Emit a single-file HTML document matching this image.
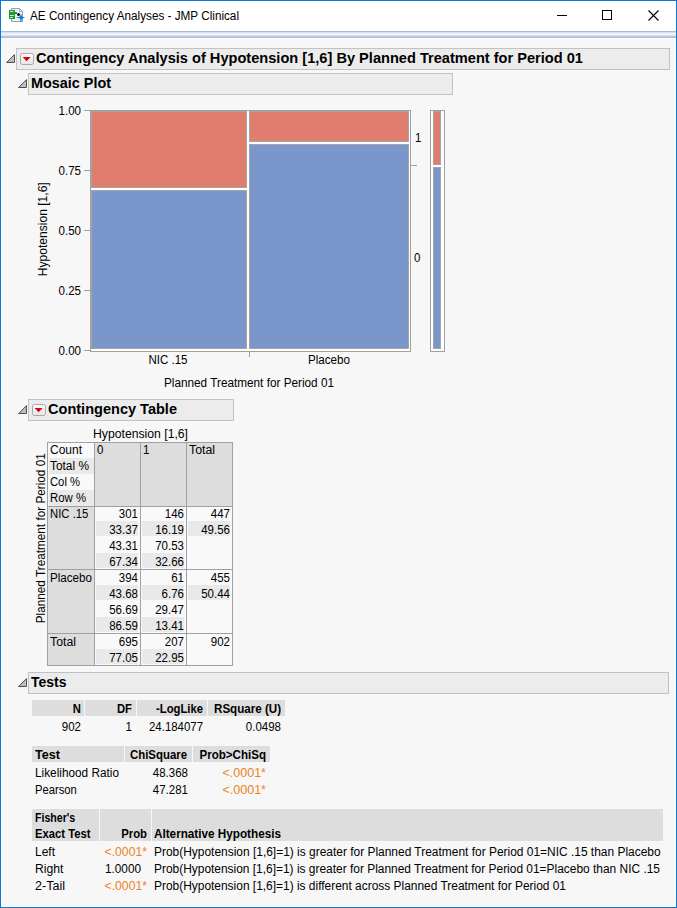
<!DOCTYPE html><html><head><meta charset="utf-8"><title>AE Contingency Analyses - JMP Clinical</title><style>
html,body{margin:0;padding:0;width:677px;height:908px;overflow:hidden;background:#f7f7f7}
.t{position:absolute;white-space:nowrap;font-family:"Liberation Sans",sans-serif;}
.r{position:absolute}
svg{position:absolute;overflow:visible}
</style></head><body>
<div class="r" style="left:0px;top:0px;width:677px;height:908px;background:#f7f7f7;"></div>
<div class="r" style="left:1px;top:1px;width:675px;height:30px;background:#ffffff;"></div>
<div class="r" style="left:1px;top:31px;width:675px;height:7px;background:linear-gradient(#a6bed8 0,#a6bed8 1px,#c9d7e6 1px,#e7edf3 2px,#f5f7fa 3px,#e7edf3 4px,#c9d7e6 5px,#a6bed8 6px,#a6bed8 7px)"></div>
<div class="r" style="left:1px;top:38px;width:675px;height:1px;background:#fdfdfb;"></div>
<div class="r" style="left:1px;top:38px;width:1px;height:869px;background:#fdfdfb;"></div>
<div class="r" style="left:675px;top:38px;width:1px;height:869px;background:#fdfdfb;"></div>
<div class="r" style="left:1px;top:906px;width:675px;height:1px;background:#fdfdfb;"></div>
<div class="r" style="left:0px;top:0px;width:677px;height:1px;background:#0a78d4;"></div>
<div class="r" style="left:0px;top:0px;width:1px;height:908px;background:#0a78d4;"></div>
<div class="r" style="left:676px;top:0px;width:1px;height:908px;background:#0a78d4;"></div>
<div class="r" style="left:0px;top:907px;width:677px;height:1px;background:#0a78d4;"></div>
<svg style="left:9px;top:8px" width="17" height="16" viewBox="0 0 17 16">
<path d="M2.5 0.5 H10.5 L13.5 3.5 V13.5 H2.5 Z" fill="#eef2f7" stroke="#86a6c8" stroke-width="1"/>
<path d="M10.5 0.5 V3.5 H13.5" fill="none" stroke="#86a6c8" stroke-width="0.8"/>
<path d="M0 2 H6 V4 H8 V6 H6 V11 H0 Z" fill="#1e9a2a"/>
<rect x="1" y="3" width="3.5" height="1" fill="#c8f0c8"/><rect x="1" y="7" width="4" height="1" fill="#c8f0c8"/><rect x="1" y="9" width="3" height="1" fill="#c8f0c8"/>
<circle cx="9.5" cy="6.5" r="1.5" fill="#111"/>
<path d="M12 5.8 L13.1 8.4 L16.2 9.5 L13.1 10.6 L12 14.8 L10.9 10.6 L7 9.5 L10.9 8.4 Z" fill="#177ec9"/>
</svg>
<div class="t" style="left:30px;top:10px;font-size:12.5px;line-height:12.5px;font-weight:normal;color:#000;;transform:scaleX(0.9381);transform-origin:0 0">AE Contingency Analyses - JMP Clinical</div>
<div class="r" style="left:557px;top:15px;width:10px;height:1px;background:#000;"></div>
<div class="r" style="left:602px;top:10px;width:10px;height:10px;box-sizing:border-box;border:1px solid #000;background:transparent"></div>
<svg style="left:648px;top:10px" width="11" height="11" viewBox="0 0 11 11"><path d="M0.5 0.5 L10.5 10.5 M10.5 0.5 L0.5 10.5" stroke="#000" stroke-width="1.1"/></svg>
<div class="r" style="left:16px;top:48px;width:654px;height:22px;box-sizing:border-box;border:1px solid #c2c2c2;background:#ececec"></div>
<svg style="left:6px;top:54px" width="10" height="10" viewBox="0 0 10 10"><path d="M0.6 8.5 L8.5 0.6 L8.5 8.5 Z" fill="#bdbdbd" stroke="#505050" stroke-width="1" stroke-linejoin="round"/></svg>
<svg style="left:20px;top:53px" width="14" height="12" viewBox="0 0 14 12"><defs><linearGradient id="bg20_53" x1="0" y1="0" x2="0" y2="1"><stop offset="0" stop-color="#fafafa"/><stop offset="1" stop-color="#e6e6e6"/></linearGradient><linearGradient id="rd20_53" x1="0" y1="0" x2="0" y2="1"><stop offset="0" stop-color="#f00000"/><stop offset="1" stop-color="#b00000"/></linearGradient></defs><rect x="0.5" y="0.5" width="13" height="11" rx="2" ry="2" fill="url(#bg20_53)" stroke="#a8a8a8" stroke-width="1"/><path d="M2.6 4 L10.6 4 L6.6 8.2 Z" fill="url(#rd20_53)"/></svg>
<div class="t" style="left:36px;top:50px;font-size:15.5px;line-height:15.5px;font-weight:bold;color:#000;;transform:scaleX(0.9418);transform-origin:0 0">Contingency Analysis of Hypotension [1,6] By Planned Treatment for Period 01</div>
<div class="r" style="left:28px;top:73px;width:425px;height:22px;box-sizing:border-box;border:1px solid #c2c2c2;background:#ececec"></div>
<svg style="left:18px;top:79px" width="10" height="10" viewBox="0 0 10 10"><path d="M0.6 8.5 L8.5 0.6 L8.5 8.5 Z" fill="#bdbdbd" stroke="#505050" stroke-width="1" stroke-linejoin="round"/></svg>
<div class="t" style="left:31.3px;top:75px;font-size:15.5px;line-height:15.5px;font-weight:bold;color:#000;;transform:scaleX(0.9287);transform-origin:0 0">Mosaic Plot</div>
<div class="r" style="left:90px;top:110px;width:321px;height:242px;box-sizing:border-box;border:1px solid #a0a0a0;background:#ffffff"></div>
<div class="r" style="left:91px;top:111px;width:156px;height:77px;box-sizing:border-box;border:1px solid #a4a4a4;background:#df7e6e"></div>
<div class="r" style="left:91px;top:190px;width:156px;height:159px;box-sizing:border-box;border:1px solid #a4a4a4;background:#7b96cb"></div>
<div class="r" style="left:249px;top:111px;width:160px;height:31px;box-sizing:border-box;border:1px solid #a4a4a4;background:#df7e6e"></div>
<div class="r" style="left:249px;top:144px;width:160px;height:205px;box-sizing:border-box;border:1px solid #a4a4a4;background:#7b96cb"></div>
<div class="r" style="left:84px;top:110px;width:6px;height:1px;background:#a0a0a0;"></div>
<div class="t" style="left:-519px;width:600px;text-align:right;top:105px;font-size:12.5px;line-height:12.5px;font-weight:normal;color:#000;;transform:scaleX(0.9243);transform-origin:600px 0">1.00</div>
<div class="r" style="left:84px;top:170px;width:6px;height:1px;background:#a0a0a0;"></div>
<div class="t" style="left:-519px;width:600px;text-align:right;top:165px;font-size:12.5px;line-height:12.5px;font-weight:normal;color:#000;;transform:scaleX(0.9243);transform-origin:600px 0">0.75</div>
<div class="r" style="left:84px;top:230px;width:6px;height:1px;background:#a0a0a0;"></div>
<div class="t" style="left:-519px;width:600px;text-align:right;top:225px;font-size:12.5px;line-height:12.5px;font-weight:normal;color:#000;;transform:scaleX(0.9243);transform-origin:600px 0">0.50</div>
<div class="r" style="left:84px;top:290px;width:6px;height:1px;background:#a0a0a0;"></div>
<div class="t" style="left:-519px;width:600px;text-align:right;top:285px;font-size:12.5px;line-height:12.5px;font-weight:normal;color:#000;;transform:scaleX(0.9243);transform-origin:600px 0">0.25</div>
<div class="r" style="left:84px;top:350px;width:6px;height:1px;background:#a0a0a0;"></div>
<div class="t" style="left:-519px;width:600px;text-align:right;top:345px;font-size:12.5px;line-height:12.5px;font-weight:normal;color:#000;;transform:scaleX(0.9243);transform-origin:600px 0">0.00</div>
<div class="t" style="left:-257px;top:222.75px;width:600px;text-align:center;font-size:12.5px;line-height:12.5px;color:#000;transform:rotate(-90deg) scaleX(0.9661);transform-origin:300px 6.25px">Hypotension [1,6]</div>
<div class="r" style="left:249px;top:351px;width:1px;height:6px;background:#a0a0a0;"></div>
<div class="t" style="left:-132px;width:600px;text-align:center;top:354px;font-size:12.5px;line-height:12.5px;font-weight:normal;color:#000;;transform:scaleX(0.9200);transform-origin:300px 0">NIC .15</div>
<div class="t" style="left:29px;width:600px;text-align:center;top:354px;font-size:12.5px;line-height:12.5px;font-weight:normal;color:#000;;transform:scaleX(0.9295);transform-origin:300px 0">Placebo</div>
<div class="t" style="left:-51px;width:600px;text-align:center;top:377px;font-size:12.5px;line-height:12.5px;font-weight:normal;color:#000;;transform:scaleX(0.9409);transform-origin:300px 0">Planned Treatment for Period 01</div>
<div class="r" style="left:410px;top:165px;width:7px;height:1px;background:#a0a0a0;"></div>
<div class="t" style="left:415px;top:132px;font-size:12.5px;line-height:12.5px;font-weight:normal;color:#000;;transform:scaleX(0.9200);transform-origin:0 0">1</div>
<div class="t" style="left:414px;top:252px;font-size:12.5px;line-height:12.5px;font-weight:normal;color:#000;;transform:scaleX(0.9200);transform-origin:0 0">0</div>
<div class="r" style="left:430px;top:110px;width:15px;height:242px;box-sizing:border-box;border:1px solid #a0a0a0;background:#ffffff"></div>
<div class="r" style="left:433px;top:111px;width:8px;height:54px;box-sizing:border-box;border:1px solid #a4a4a4;background:#df7e6e"></div>
<div class="r" style="left:433px;top:167px;width:8px;height:182px;box-sizing:border-box;border:1px solid #a4a4a4;background:#7b96cb"></div>
<div class="r" style="left:28px;top:399px;width:206px;height:22px;box-sizing:border-box;border:1px solid #c2c2c2;background:#ececec"></div>
<svg style="left:18px;top:405px" width="10" height="10" viewBox="0 0 10 10"><path d="M0.6 8.5 L8.5 0.6 L8.5 8.5 Z" fill="#bdbdbd" stroke="#505050" stroke-width="1" stroke-linejoin="round"/></svg>
<svg style="left:32px;top:404px" width="14" height="12" viewBox="0 0 14 12"><defs><linearGradient id="bg32_404" x1="0" y1="0" x2="0" y2="1"><stop offset="0" stop-color="#fafafa"/><stop offset="1" stop-color="#e6e6e6"/></linearGradient><linearGradient id="rd32_404" x1="0" y1="0" x2="0" y2="1"><stop offset="0" stop-color="#f00000"/><stop offset="1" stop-color="#b00000"/></linearGradient></defs><rect x="0.5" y="0.5" width="13" height="11" rx="2" ry="2" fill="url(#bg32_404)" stroke="#a8a8a8" stroke-width="1"/><path d="M2.6 4 L10.6 4 L6.6 8.2 Z" fill="url(#rd32_404)"/></svg>
<div class="t" style="left:48px;top:401px;font-size:15.5px;line-height:15.5px;font-weight:bold;color:#000;;transform:scaleX(0.9381);transform-origin:0 0">Contingency Table</div>
<div class="t" style="left:93px;top:428px;font-size:12.5px;line-height:12.5px;font-weight:normal;color:#000;;transform:scaleX(0.9764);transform-origin:0 0">Hypotension [1,6]</div>
<div class="t" style="left:-259px;top:531.75px;width:600px;text-align:center;font-size:12.5px;line-height:12.5px;color:#000;transform:rotate(-90deg) scaleX(0.9409);transform-origin:300px 6.25px">Planned Treatment for Period 01</div>
<div class="r" style="left:47px;top:442px;width:186px;height:224px;background:#f9f9f9;"></div>
<div class="r" style="left:95px;top:443px;width:45px;height:63px;background:#dddddd;"></div>
<div class="r" style="left:141px;top:443px;width:45px;height:63px;background:#dddddd;"></div>
<div class="r" style="left:187px;top:443px;width:45px;height:63px;background:#dddddd;"></div>
<div class="r" style="left:48px;top:507px;width:46px;height:62px;background:#dddddd;"></div>
<div class="r" style="left:48px;top:570px;width:46px;height:63px;background:#dddddd;"></div>
<div class="r" style="left:48px;top:634px;width:46px;height:31px;background:#dddddd;"></div>
<div class="r" style="left:49px;top:458px;width:45px;height:16px;background:#e9e9e9;"></div>
<div class="r" style="left:49px;top:490px;width:45px;height:16px;background:#e9e9e9;"></div>
<div class="r" style="left:96px;top:521px;width:42px;height:15px;background:#e9e9e9;"></div>
<div class="r" style="left:142px;top:521px;width:42px;height:15px;background:#e9e9e9;"></div>
<div class="r" style="left:188px;top:521px;width:42px;height:15px;background:#e9e9e9;"></div>
<div class="r" style="left:96px;top:553px;width:42px;height:15px;background:#e9e9e9;"></div>
<div class="r" style="left:142px;top:553px;width:42px;height:15px;background:#e9e9e9;"></div>
<div class="r" style="left:96px;top:585px;width:42px;height:15px;background:#e9e9e9;"></div>
<div class="r" style="left:142px;top:585px;width:42px;height:15px;background:#e9e9e9;"></div>
<div class="r" style="left:188px;top:585px;width:42px;height:15px;background:#e9e9e9;"></div>
<div class="r" style="left:96px;top:617px;width:42px;height:15px;background:#e9e9e9;"></div>
<div class="r" style="left:142px;top:617px;width:42px;height:15px;background:#e9e9e9;"></div>
<div class="r" style="left:96px;top:649px;width:42px;height:15px;background:#e9e9e9;"></div>
<div class="r" style="left:142px;top:649px;width:42px;height:15px;background:#e9e9e9;"></div>
<div class="r" style="left:47px;top:442px;width:1px;height:224px;background:#a0a0a0;"></div>
<div class="r" style="left:94px;top:442px;width:1px;height:224px;background:#a0a0a0;"></div>
<div class="r" style="left:140px;top:442px;width:1px;height:224px;background:#a0a0a0;"></div>
<div class="r" style="left:186px;top:442px;width:1px;height:224px;background:#a0a0a0;"></div>
<div class="r" style="left:232px;top:442px;width:1px;height:224px;background:#a0a0a0;"></div>
<div class="r" style="left:47px;top:442px;width:186px;height:1px;background:#a0a0a0;"></div>
<div class="r" style="left:47px;top:506px;width:186px;height:1px;background:#a0a0a0;"></div>
<div class="r" style="left:47px;top:569px;width:186px;height:1px;background:#a0a0a0;"></div>
<div class="r" style="left:47px;top:633px;width:186px;height:1px;background:#a0a0a0;"></div>
<div class="r" style="left:47px;top:665px;width:186px;height:1px;background:#a0a0a0;"></div>
<div class="t" style="left:50px;top:444px;font-size:12.5px;line-height:12.5px;font-weight:normal;color:#000;;transform:scaleX(0.9593);transform-origin:0 0">Count</div>
<div class="t" style="left:50px;top:460px;font-size:12.5px;line-height:12.5px;font-weight:normal;color:#000;;transform:scaleX(0.9512);transform-origin:0 0">Total %</div>
<div class="t" style="left:50px;top:476px;font-size:12.5px;line-height:12.5px;font-weight:normal;color:#000;;transform:scaleX(0.8997);transform-origin:0 0">Col %</div>
<div class="t" style="left:50px;top:492px;font-size:12.5px;line-height:12.5px;font-weight:normal;color:#000;;transform:scaleX(0.9092);transform-origin:0 0">Row %</div>
<div class="t" style="left:97px;top:444px;font-size:12.5px;line-height:12.5px;font-weight:normal;color:#000;;transform:scaleX(0.9200);transform-origin:0 0">0</div>
<div class="t" style="left:143px;top:444px;font-size:12.5px;line-height:12.5px;font-weight:normal;color:#000;;transform:scaleX(0.9200);transform-origin:0 0">1</div>
<div class="t" style="left:189px;top:444px;font-size:12.5px;line-height:12.5px;font-weight:normal;color:#000;;transform:scaleX(0.9846);transform-origin:0 0">Total</div>
<div class="t" style="left:50px;top:508px;font-size:12.5px;line-height:12.5px;font-weight:normal;color:#000;;transform:scaleX(0.9059);transform-origin:0 0">NIC .15</div>
<div class="t" style="left:-462px;width:600px;text-align:right;top:508px;font-size:12.5px;line-height:12.5px;font-weight:normal;color:#000;;transform:scaleX(0.9200);transform-origin:600px 0">301</div>
<div class="t" style="left:-416px;width:600px;text-align:right;top:508px;font-size:12.5px;line-height:12.5px;font-weight:normal;color:#000;;transform:scaleX(0.9200);transform-origin:600px 0">146</div>
<div class="t" style="left:-370px;width:600px;text-align:right;top:508px;font-size:12.5px;line-height:12.5px;font-weight:normal;color:#000;;transform:scaleX(0.9200);transform-origin:600px 0">447</div>
<div class="t" style="left:-462px;width:600px;text-align:right;top:524px;font-size:12.5px;line-height:12.5px;font-weight:normal;color:#000;;transform:scaleX(0.9200);transform-origin:600px 0">33.37</div>
<div class="t" style="left:-416px;width:600px;text-align:right;top:524px;font-size:12.5px;line-height:12.5px;font-weight:normal;color:#000;;transform:scaleX(0.9200);transform-origin:600px 0">16.19</div>
<div class="t" style="left:-370px;width:600px;text-align:right;top:524px;font-size:12.5px;line-height:12.5px;font-weight:normal;color:#000;;transform:scaleX(0.9200);transform-origin:600px 0">49.56</div>
<div class="t" style="left:-462px;width:600px;text-align:right;top:540px;font-size:12.5px;line-height:12.5px;font-weight:normal;color:#000;;transform:scaleX(0.9200);transform-origin:600px 0">43.31</div>
<div class="t" style="left:-416px;width:600px;text-align:right;top:540px;font-size:12.5px;line-height:12.5px;font-weight:normal;color:#000;;transform:scaleX(0.9200);transform-origin:600px 0">70.53</div>
<div class="t" style="left:-462px;width:600px;text-align:right;top:556px;font-size:12.5px;line-height:12.5px;font-weight:normal;color:#000;;transform:scaleX(0.9200);transform-origin:600px 0">67.34</div>
<div class="t" style="left:-416px;width:600px;text-align:right;top:556px;font-size:12.5px;line-height:12.5px;font-weight:normal;color:#000;;transform:scaleX(0.9200);transform-origin:600px 0">32.66</div>
<div class="t" style="left:50px;top:572px;font-size:12.5px;line-height:12.5px;font-weight:normal;color:#000;;transform:scaleX(0.9295);transform-origin:0 0">Placebo</div>
<div class="t" style="left:-462px;width:600px;text-align:right;top:572px;font-size:12.5px;line-height:12.5px;font-weight:normal;color:#000;;transform:scaleX(0.9200);transform-origin:600px 0">394</div>
<div class="t" style="left:-416px;width:600px;text-align:right;top:572px;font-size:12.5px;line-height:12.5px;font-weight:normal;color:#000;;transform:scaleX(0.9200);transform-origin:600px 0">61</div>
<div class="t" style="left:-370px;width:600px;text-align:right;top:572px;font-size:12.5px;line-height:12.5px;font-weight:normal;color:#000;;transform:scaleX(0.9200);transform-origin:600px 0">455</div>
<div class="t" style="left:-462px;width:600px;text-align:right;top:588px;font-size:12.5px;line-height:12.5px;font-weight:normal;color:#000;;transform:scaleX(0.9200);transform-origin:600px 0">43.68</div>
<div class="t" style="left:-416px;width:600px;text-align:right;top:588px;font-size:12.5px;line-height:12.5px;font-weight:normal;color:#000;;transform:scaleX(0.9200);transform-origin:600px 0">6.76</div>
<div class="t" style="left:-370px;width:600px;text-align:right;top:588px;font-size:12.5px;line-height:12.5px;font-weight:normal;color:#000;;transform:scaleX(0.9200);transform-origin:600px 0">50.44</div>
<div class="t" style="left:-462px;width:600px;text-align:right;top:604px;font-size:12.5px;line-height:12.5px;font-weight:normal;color:#000;;transform:scaleX(0.9200);transform-origin:600px 0">56.69</div>
<div class="t" style="left:-416px;width:600px;text-align:right;top:604px;font-size:12.5px;line-height:12.5px;font-weight:normal;color:#000;;transform:scaleX(0.9200);transform-origin:600px 0">29.47</div>
<div class="t" style="left:-462px;width:600px;text-align:right;top:620px;font-size:12.5px;line-height:12.5px;font-weight:normal;color:#000;;transform:scaleX(0.9200);transform-origin:600px 0">86.59</div>
<div class="t" style="left:-416px;width:600px;text-align:right;top:620px;font-size:12.5px;line-height:12.5px;font-weight:normal;color:#000;;transform:scaleX(0.9200);transform-origin:600px 0">13.41</div>
<div class="t" style="left:50px;top:636px;font-size:12.5px;line-height:12.5px;font-weight:normal;color:#000;;transform:scaleX(0.9846);transform-origin:0 0">Total</div>
<div class="t" style="left:-462px;width:600px;text-align:right;top:636px;font-size:12.5px;line-height:12.5px;font-weight:normal;color:#000;;transform:scaleX(0.9200);transform-origin:600px 0">695</div>
<div class="t" style="left:-416px;width:600px;text-align:right;top:636px;font-size:12.5px;line-height:12.5px;font-weight:normal;color:#000;;transform:scaleX(0.9200);transform-origin:600px 0">207</div>
<div class="t" style="left:-370px;width:600px;text-align:right;top:636px;font-size:12.5px;line-height:12.5px;font-weight:normal;color:#000;;transform:scaleX(0.9200);transform-origin:600px 0">902</div>
<div class="t" style="left:-462px;width:600px;text-align:right;top:652px;font-size:12.5px;line-height:12.5px;font-weight:normal;color:#000;;transform:scaleX(0.9200);transform-origin:600px 0">77.05</div>
<div class="t" style="left:-416px;width:600px;text-align:right;top:652px;font-size:12.5px;line-height:12.5px;font-weight:normal;color:#000;;transform:scaleX(0.9200);transform-origin:600px 0">22.95</div>
<div class="r" style="left:28px;top:672px;width:641px;height:22px;box-sizing:border-box;border:1px solid #c2c2c2;background:#ececec"></div>
<svg style="left:18px;top:678px" width="10" height="10" viewBox="0 0 10 10"><path d="M0.6 8.5 L8.5 0.6 L8.5 8.5 Z" fill="#bdbdbd" stroke="#505050" stroke-width="1" stroke-linejoin="round"/></svg>
<div class="t" style="left:31px;top:674px;font-size:15.5px;line-height:15.5px;font-weight:bold;color:#000;;transform:scaleX(0.9000);transform-origin:0 0">Tests</div>
<div class="r" style="left:32px;top:700px;width:52px;height:16px;background:#dddddd;"></div>
<div class="r" style="left:85px;top:700px;width:51px;height:16px;background:#dddddd;"></div>
<div class="r" style="left:137px;top:700px;width:70px;height:16px;background:#dddddd;"></div>
<div class="r" style="left:208px;top:700px;width:77px;height:16px;background:#dddddd;"></div>
<div class="t" style="left:-519.5px;width:600px;text-align:right;top:703px;font-size:12.5px;line-height:12.5px;font-weight:bold;color:#000;;transform:scaleX(0.9000);transform-origin:600px 0">N</div>
<div class="t" style="left:-468.5px;width:600px;text-align:right;top:703px;font-size:12.5px;line-height:12.5px;font-weight:bold;color:#000;;transform:scaleX(0.9000);transform-origin:600px 0">DF</div>
<div class="t" style="left:-397px;width:600px;text-align:right;top:703px;font-size:12.5px;line-height:12.5px;font-weight:bold;color:#000;;transform:scaleX(0.9022);transform-origin:600px 0">-LogLike</div>
<div class="t" style="left:-319px;width:600px;text-align:right;top:703px;font-size:12.5px;line-height:12.5px;font-weight:bold;color:#000;;transform:scaleX(0.9275);transform-origin:600px 0">RSquare (U)</div>
<div class="t" style="left:-519.5px;width:600px;text-align:right;top:721px;font-size:12.5px;line-height:12.5px;font-weight:normal;color:#000;;transform:scaleX(0.9200);transform-origin:600px 0">902</div>
<div class="t" style="left:-468.5px;width:600px;text-align:right;top:721px;font-size:12.5px;line-height:12.5px;font-weight:normal;color:#000;;transform:scaleX(0.9200);transform-origin:600px 0">1</div>
<div class="t" style="left:-397px;width:600px;text-align:right;top:721px;font-size:12.5px;line-height:12.5px;font-weight:normal;color:#000;;transform:scaleX(0.9138);transform-origin:600px 0">24.184077</div>
<div class="t" style="left:-319px;width:600px;text-align:right;top:721px;font-size:12.5px;line-height:12.5px;font-weight:normal;color:#000;;transform:scaleX(0.9200);transform-origin:600px 0">0.0498</div>
<div class="r" style="left:32px;top:746px;width:92px;height:16px;background:#dddddd;"></div>
<div class="r" style="left:125px;top:746px;width:67px;height:16px;background:#dddddd;"></div>
<div class="r" style="left:193px;top:746px;width:77px;height:16px;background:#dddddd;"></div>
<div class="t" style="left:35px;top:749px;font-size:12.5px;line-height:12.5px;font-weight:bold;color:#000;;transform:scaleX(1.0088);transform-origin:0 0">Test</div>
<div class="t" style="left:-413px;width:600px;text-align:right;top:749px;font-size:12.5px;line-height:12.5px;font-weight:bold;color:#000;;transform:scaleX(0.9118);transform-origin:600px 0">ChiSquare</div>
<div class="t" style="left:-334px;width:600px;text-align:right;top:749px;font-size:12.5px;line-height:12.5px;font-weight:bold;color:#000;;transform:scaleX(0.9250);transform-origin:600px 0">Prob&gt;ChiSq</div>
<div class="t" style="left:35px;top:767px;font-size:12.5px;line-height:12.5px;font-weight:normal;color:#000;;transform:scaleX(0.9443);transform-origin:0 0">Likelihood Ratio</div>
<div class="t" style="left:-412px;width:600px;text-align:right;top:767px;font-size:12.5px;line-height:12.5px;font-weight:normal;color:#000;;transform:scaleX(0.9200);transform-origin:600px 0">48.368</div>
<div class="t" style="left:-334px;width:600px;text-align:right;top:767px;font-size:12.5px;line-height:12.5px;font-weight:normal;color:#ec8424;;transform:scaleX(1.0034);transform-origin:600px 0">&lt;.0001*</div>
<div class="t" style="left:35px;top:784px;font-size:12.5px;line-height:12.5px;font-weight:normal;color:#000;;transform:scaleX(0.8977);transform-origin:0 0">Pearson</div>
<div class="t" style="left:-412px;width:600px;text-align:right;top:784px;font-size:12.5px;line-height:12.5px;font-weight:normal;color:#000;;transform:scaleX(0.9200);transform-origin:600px 0">47.281</div>
<div class="t" style="left:-334px;width:600px;text-align:right;top:784px;font-size:12.5px;line-height:12.5px;font-weight:normal;color:#ec8424;;transform:scaleX(1.0034);transform-origin:600px 0">&lt;.0001*</div>
<div class="r" style="left:32px;top:809px;width:67px;height:32px;background:#dddddd;"></div>
<div class="r" style="left:100px;top:809px;width:51px;height:32px;background:#dddddd;"></div>
<div class="r" style="left:152px;top:809px;width:511px;height:32px;background:#dddddd;"></div>
<div class="t" style="left:35.3px;top:812px;font-size:12.5px;line-height:12.5px;font-weight:bold;color:#000;;transform:scaleX(0.8474);transform-origin:0 0">Fisher's</div>
<div class="t" style="left:35.3px;top:828px;font-size:12.5px;line-height:12.5px;font-weight:bold;color:#000;;transform:scaleX(0.9008);transform-origin:0 0">Exact Test</div>
<div class="t" style="left:-453.3px;width:600px;text-align:right;top:828px;font-size:12.5px;line-height:12.5px;font-weight:bold;color:#000;;transform:scaleX(0.9058);transform-origin:600px 0">Prob</div>
<div class="t" style="left:154px;top:828px;font-size:12.5px;line-height:12.5px;font-weight:bold;color:#000;;transform:scaleX(0.9375);transform-origin:0 0">Alternative Hypothesis</div>
<div class="t" style="left:35px;top:846px;font-size:12.5px;line-height:12.5px;font-weight:normal;color:#000;;transform:scaleX(0.9588);transform-origin:0 0">Left</div>
<div class="t" style="left:-453.3px;width:600px;text-align:right;top:846px;font-size:12.5px;line-height:12.5px;font-weight:normal;color:#ec8424;;transform:scaleX(0.9781);transform-origin:600px 0">&lt;.0001*</div>
<div class="t" style="left:154px;top:846px;font-size:12.5px;line-height:12.5px;font-weight:normal;color:#000;;transform:scaleX(0.9555);transform-origin:0 0">Prob(Hypotension [1,6]=1) is greater for Planned Treatment for Period 01=NIC .15 than Placebo</div>
<div class="t" style="left:35px;top:863px;font-size:12.5px;line-height:12.5px;font-weight:normal;color:#000;;transform:scaleX(0.9730);transform-origin:0 0">Right</div>
<div class="t" style="left:-459px;width:600px;text-align:right;top:863px;font-size:12.5px;line-height:12.5px;font-weight:normal;color:#000;;transform:scaleX(0.9416);transform-origin:600px 0">1.0000</div>
<div class="t" style="left:154px;top:863px;font-size:12.5px;line-height:12.5px;font-weight:normal;color:#000;;transform:scaleX(0.9544);transform-origin:0 0">Prob(Hypotension [1,6]=1) is greater for Planned Treatment for Period 01=Placebo than NIC .15</div>
<div class="t" style="left:35px;top:880px;font-size:12.5px;line-height:12.5px;font-weight:normal;color:#000;;transform:scaleX(1.0042);transform-origin:0 0">2-Tail</div>
<div class="t" style="left:-453.3px;width:600px;text-align:right;top:880px;font-size:12.5px;line-height:12.5px;font-weight:normal;color:#ec8424;;transform:scaleX(0.9781);transform-origin:600px 0">&lt;.0001*</div>
<div class="t" style="left:154px;top:880px;font-size:12.5px;line-height:12.5px;font-weight:normal;color:#000;;transform:scaleX(0.9546);transform-origin:0 0">Prob(Hypotension [1,6]=1) is different across Planned Treatment for Period 01</div>
</body></html>
